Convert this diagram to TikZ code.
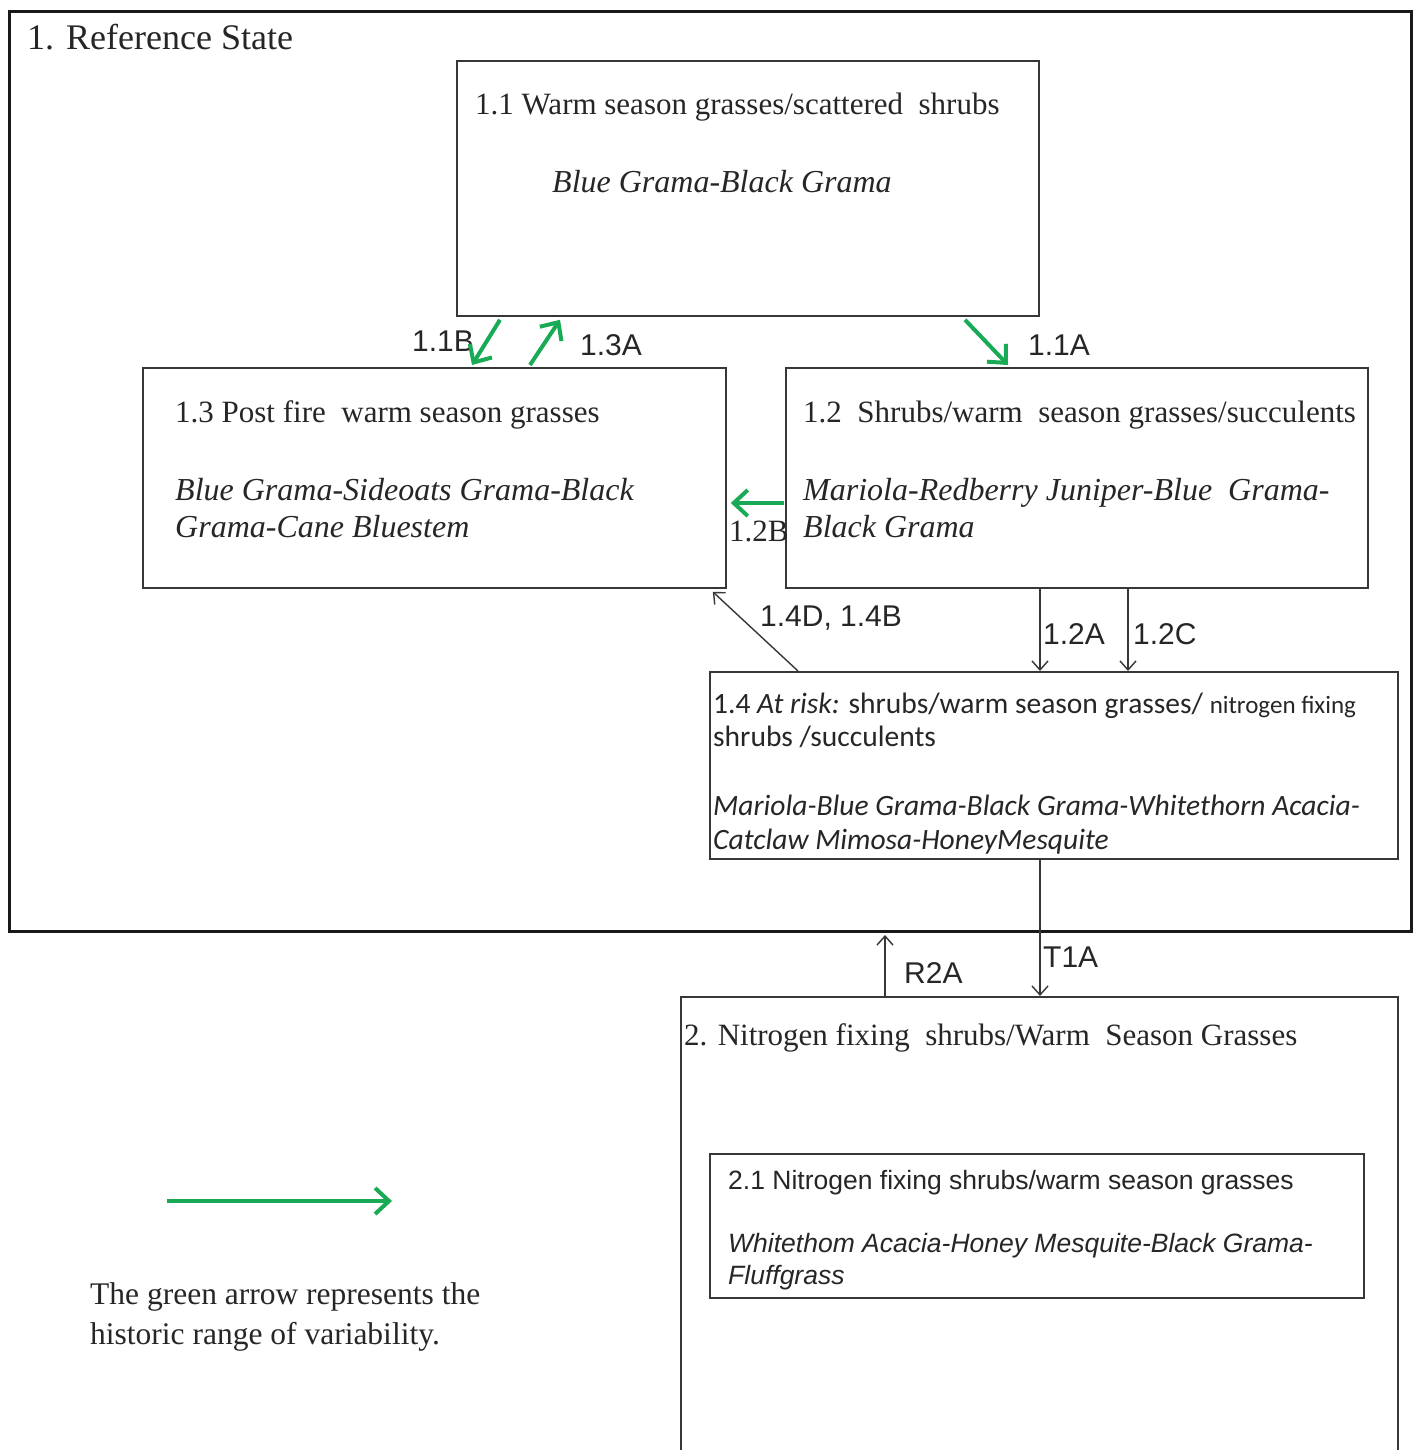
\documentclass[tikz,border=0pt]{standalone}
\usepackage{fontspec}
\setmainfont{Liberation Serif}
\newfontfamily\arialf{Liberation Sans}
\newfontfamily\calf{Carlito}
\usetikzlibrary{arrows.meta,calc}
\definecolor{grn}{RGB}{25,170,85}
\definecolor{ln}{RGB}{55,55,55}
\begin{document}
\begin{tikzpicture}[x=1pt,y=-1pt,
  box/.style={draw=ln, line width=1.8pt, inner sep=0pt, anchor=north west},
  txt/.style={inner sep=0pt, anchor=base west, text=black!85},
  serif/.style={txt, font=\fontsize{31}{36}\selectfont},
  serifit/.style={txt, font=\fontsize{32}{36}\selectfont\itshape},
  lab/.style={txt, font=\arialf\fontsize{30}{36}\selectfont},
  cal/.style={txt, font=\calf\fontsize{29.5}{34}\selectfont},
  ari/.style={txt, font=\arialf\fontsize{26.5}{32}\selectfont},
  carrow/.style={draw=ln, line width=1.4pt, -{Straight Barb[length=9pt,width=16pt,line width=1.4pt]}},
  garrow/.style={draw=grn, line width=4pt, -{Straight Barb[length=14pt,width=26pt,line width=4pt]}}
]
\useasboundingbox (0,0) rectangle (1415,1450);
\fill[white] (0,0) rectangle (1415,1450);

% state boxes
\node[box, line width=3pt, draw=black!90, minimum width=1402pt, minimum height=920pt] (s1) at (8,10) {};
\node[box, minimum width=717pt, minimum height=480pt] (s2) at (680,996) {};

% community boxes
\node[box, minimum width=582pt, minimum height=255pt] (b11) at (456,60) {};
\node[box, minimum width=583pt, minimum height=220pt] (b13) at (142,367) {};
\node[box, minimum width=582pt, minimum height=220pt] (b12) at (785,367) {};
\node[box, minimum width=688pt, minimum height=187pt] (b14) at (709,671) {};
\node[box, minimum width=654pt, minimum height=144pt] (b21) at (709,1153) {};

% texts
\node[txt, font=\fontsize{36}{40}\selectfont] (t1) at (27,50) {1. Reference State};
\node[serif] (t11a) at (475,115) {1.1 Warm season grasses/scattered\ \ shrubs};
\node[serifit] (t11b) at (552,193) {Blue Grama-Black Grama};
\node[serif] (t13a) at (175,422) {1.3 Post fire\ \ warm season grasses};
\node[serifit] (t13b) at (175,500) {Blue Grama-Sideoats Grama-Black};
\node[serifit] (t13c) at (175,537) {Grama-Cane Bluestem};
\node[serif] (t12a) at (803,422) {1.2\ \ Shrubs/warm\ \ season grasses/succulents};
\node[serifit] (t12b) at (803,500) {Mariola-Redberry Juniper-Blue\ \ Grama-};
\node[serifit] (t12c) at (803,537) {Black Grama};
\node[cal] (t14a) at (713,713) {1.4 \textit{At risk:} shrubs/warm season grasses/ {\fontsize{25}{28}\selectfont nitrogen fixing}};
\node[cal] (t14b) at (713,746) {shrubs /succulents};
\node[cal] (t14c) at (713,815) {\itshape Mariola-Blue Grama-Black Grama-Whitethorn Acacia-};
\node[cal] (t14d) at (713,849) {\itshape Catclaw Mimosa-HoneyMesquite};
\node[serif] (t2) at (684,1045) {2. Nitrogen fixing\ \ shrubs/Warm\ \ Season Grasses};
\node[ari] (t21a) at (728,1189) {2.1 Nitrogen\ fixing shrubs/warm\ season grasses};
\node[ari] (t21b) at (728,1252) {\itshape Whitethom\ Acacia-Honey\ Mesquite-Black\ Grama-};
\node[ari] (t21c) at (728,1284) {\itshape Fluffgrass};
\node[txt, font=\fontsize{31.5}{36}\selectfont] (lg1) at (90,1304) {The green arrow represents the};
\node[txt, font=\fontsize{31.5}{36}\selectfont] (lg2) at (90,1344) {historic range of variability.};

% labels
\node[lab] (l11b) at (412,351) {1.1B};
\node[lab] (l13a) at (580,355) {1.3A};
\node[lab] (l11a) at (1028,355) {1.1A};
\node[serif] (l12b) at (729,541) {1.2B};
\node[lab] (l14d) at (760,626) {1.4D, 1.4B};
\node[lab] (l12a) at (1043,644) {1.2A};
\node[lab] (l12c) at (1133,644) {1.2C};
\node[lab] (lt1a) at (1043,967) {T1A};
\node[lab] (lr2a) at (904,983) {R2A};

% green arrows
\draw[garrow] ($(b11.south west)+(44,3)$) -- ($(b13.north west)+(330,-2)$);
\draw[garrow] ($(b13.north west)+(388,-2)$) -- ($(b11.south west)+(104,3)$);
\draw[garrow] ($(b11.south west)+(509,3)$) -- ($(b12.north west)+(223,-2)$);
\draw[garrow] ($(b12.north west)+(-1,136)$) -- ($(b13.north east)+(4,136)$);

% black arrows
\draw[carrow] ($(b14.north west)+(89,0)$) -- ($(b13.south east)+(-14,3)$);
\draw[carrow] ($(b12.south west)+(255,0)$) -- ($(b14.north west)+(331,0)$);
\draw[carrow] ($(b12.south west)+(343,0)$) -- ($(b14.north west)+(419,0)$);
\draw[carrow] ($(b14.south west)+(331,0)$) -- ($(s2.north west)+(360,0)$);
\draw[carrow] ($(s2.north west)+(205,0)$) -- ($(s1.south west)+(877,2)$);

% legend arrow
\coordinate (la) at (167,1201);
\coordinate (lb) at (392,1201);
\draw[garrow] (la) -- (lb);
\end{tikzpicture}
\end{document}
